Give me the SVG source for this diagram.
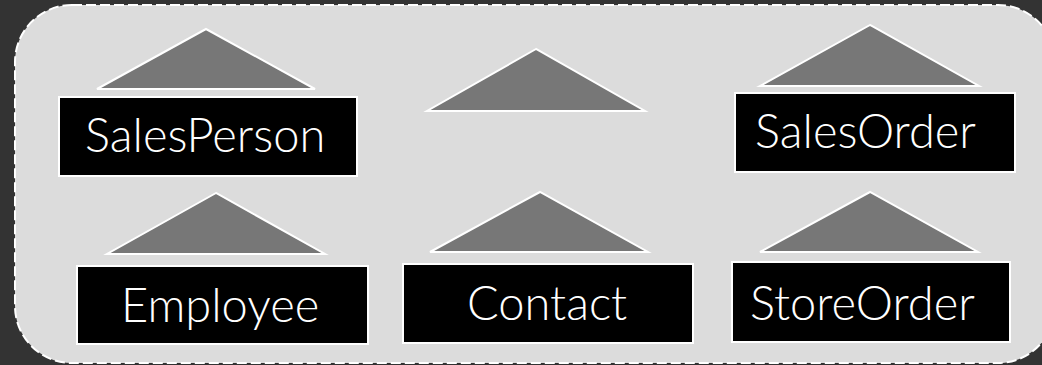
<svg xmlns="http://www.w3.org/2000/svg" width="1042" height="365" viewBox="0 0 1042 365">
<style>
.tri{fill:#777777;stroke:#ffffff;stroke-width:2;stroke-linejoin:miter}
.box{fill:#000000;stroke:#ffffff;stroke-width:2}
.lbl{fill:#ffffff;font-family:Lato,"Open Sans",sans-serif;font-size:47px;font-weight:300}
</style>
<rect x="0" y="0" width="1042" height="365" fill="#333333"/>
<rect id="container" x="15" y="5" width="1040" height="358" rx="57" ry="57" fill="#dcdcdc" stroke="#ffffff" stroke-width="2" stroke-dasharray="10,4"/>
<g id="connectors"/>
<g id="tri-salesperson"><polygon class="tri" points="206,29 97,89 315,89"/></g>
<g id="tri-middle"><polygon class="tri" points="536,49 427,111 645,111"/></g>
<g id="tri-salesorder"><polygon class="tri" points="870,25 760,86 979,86"/></g>
<g id="tri-employee"><polygon class="tri" points="216,193 107,254 325,254"/></g>
<g id="tri-contact"><polygon class="tri" points="540,192 430,252 648,252"/></g>
<g id="tri-storeorder"><polygon class="tri" points="870,192 760,252 978,252"/></g>
<g id="SalesPerson"><rect class="box" x="59" y="97" width="298" height="79"/><text class="lbl" x="85" y="152">SalesPerson</text></g>
<g id="SalesOrder"><rect class="box" x="735" y="93" width="280" height="79"/><text class="lbl" x="755" y="148">SalesOrder</text></g>
<g id="Employee"><rect class="box" x="77" y="266" width="291" height="78"/><text class="lbl" x="121" y="322">Employee</text></g>
<g id="Contact"><rect class="box" x="403" y="264" width="290" height="79"/><text class="lbl" x="467" y="320">Contact</text></g>
<g id="StoreOrder"><rect class="box" x="732" y="262" width="278" height="80"/><text class="lbl" x="750" y="320">StoreOrder</text></g>
</svg>
